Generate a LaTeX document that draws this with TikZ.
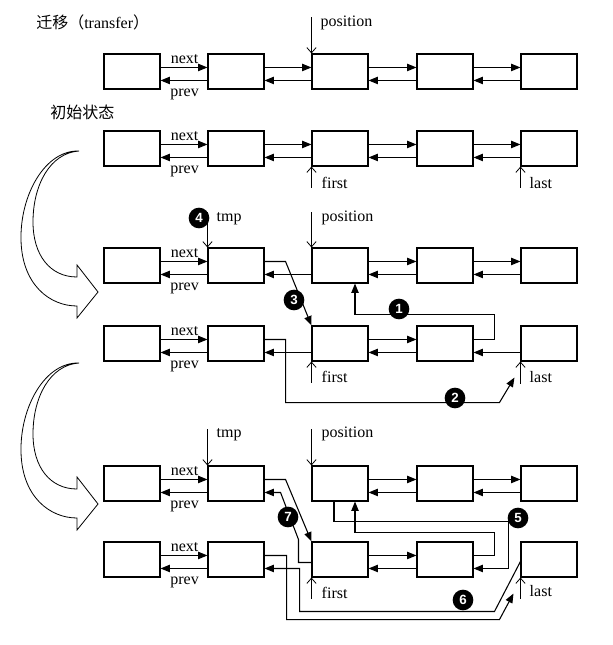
\documentclass[tikz,border=0pt]{standalone}
\usepackage{fontspec}
\setmainfont{Liberation Serif}
\newfontfamily\cjkfont{Noto Sans CJK SC}
\newfontfamily\numfont{Liberation Sans}
\usetikzlibrary{calc,arrows.meta}
\tikzset{
 box/.style={draw, line width=0.8pt, minimum width=42pt, minimum height=26.25pt, inner sep=0pt},
 link/.style={line width=0.8pt, -{Triangle[length=7pt,width=5.5pt]}},
 ptr/.style={line width=0.6pt, -{Straight Barb[length=4pt,width=7pt]}},
 lbl/.style={font=\fontsize{12}{14}\selectfont, inner sep=0pt, anchor=base west},
 num/.style={circle, fill=black, text=white, font=\numfont\bfseries\fontsize{10}{10}\selectfont, minimum size=15.5pt, inner sep=0pt},
 turn/.style={line width=0.6pt, fill=white},
}
\newcommand{\boxrow}[2]{%
 \node[box] (#11) at (132,#2) {};
 \node[box] (#12) at (236,#2) {};
 \node[box] (#13) at (340,#2) {};
 \node[box] (#14) at (445,#2) {};
 \node[box] (#15) at (549,#2) {};
 \node[lbl,anchor=base] (#1nx) at ($(#11.north east)+(24,10)$) {next};
 \node[lbl,anchor=base] (#1pv) at ($(#11.north east)+(24,43)$) {prev};
}
\newcommand{\lnknext}[2]{\draw[link] ($(#1.north east)+(0,14)$) -- ($(#2.north west)+(0,14)$);}
\newcommand{\lnkprev}[2]{\draw[link] ($(#1.north west)+(0,27)$) -- ($(#2.north east)+(0,27)$);}
\newcommand{\bigturn}[1]{%
 \draw[turn, shift={(0,#1)}] (79,151) .. controls (45,150) and (20,195) .. (21,240)
  .. controls (22,285) and (50,306) .. (77,306) -- (77,318) -- (98,292) -- (77,265) -- (77,277)
  .. controls (50,277) and (33,255) .. (33,222) .. controls (33,185) and (50,153) .. (79,151) -- cycle;}
\begin{document}
\begin{tikzpicture}[x=0.75pt,y=-0.75pt]
\path[use as bounding box] (0,0) rectangle (612,645);

\node[lbl] (title) at (36,29) {{\cjkfont 迁移（}transfer{\cjkfont ）}};
\node[lbl] (init) at (50,119) {\cjkfont 初始状态};

\bigturn{0}
\bigturn{212}

% ---------- row 1
\boxrow{a}{71.5}
\lnknext{a1}{a2}\lnkprev{a2}{a1}
\lnknext{a2}{a3}\lnkprev{a3}{a2}
\lnknext{a3}{a4}\lnkprev{a4}{a3}
\lnknext{a4}{a5}\lnkprev{a5}{a4}
\coordinate (apos) at ($(a3.north west)+(0,-36)$);
\draw[ptr] (apos) -- (a3.north west);
\node[lbl] (aposl) at ($(apos)+(9,9)$) {position};

% ---------- row 2
\boxrow{b}{148.5}
\lnknext{b1}{b2}\lnkprev{b2}{b1}
\lnknext{b2}{b3}\lnkprev{b3}{b2}
\lnknext{b3}{b4}\lnkprev{b4}{b3}
\lnknext{b4}{b5}\lnkprev{b5}{b4}
\coordinate (bfirst) at ($(b3.south west)+(0,21)$);
\draw[ptr] (bfirst) -- (b3.south west);
\node[lbl] (bfirstl) at ($(b3.south west)+(10,22)$) {first};
\coordinate (blast) at ($(b5.south west)+(0,21)$);
\draw[ptr] (blast) -- (b5.south west);
\node[lbl] (blastl) at ($(b5.south west)+(9,22)$) {last};

% ---------- row 3
\boxrow{c}{265.5}
\lnknext{c1}{c2}\lnkprev{c2}{c1}
\lnkprev{c3}{c2}
\lnknext{c3}{c4}\lnkprev{c4}{c3}
\lnknext{c4}{c5}\lnkprev{c5}{c4}
\coordinate (ctmp) at ($(c2.north west)+(0,-35)$);
\draw[ptr] (ctmp) -- (c2.north west);
\node[lbl] (ctmpl) at ($(c2.north west)+(9,-26)$) {tmp};
\node[num] (n4) at (199,218) {4};
\coordinate (cpos) at ($(c3.north west)+(0,-35)$);
\draw[ptr] (cpos) -- (c3.north west);
\node[lbl] (cposl) at ($(c3.north west)+(10,-26)$) {position};

% ---------- row 4
\boxrow{d}{343.5}
\lnknext{d1}{d2}\lnkprev{d2}{d1}
\lnkprev{d3}{d2}
\lnknext{d3}{d4}\lnkprev{d4}{d3}
\lnkprev{d5}{d4}
\coordinate (dfirst) at ($(d3.south west)+(0,21)$);
\draw[ptr] (dfirst) -- (d3.south west);
\node[lbl] (dfirstl) at ($(d3.south west)+(10,21)$) {first};
\coordinate (dlast) at ($(d5.south west)+(0,22)$);
\draw[ptr] (dlast) -- (d5.south west);
\node[lbl] (dlastl) at ($(d5.south west)+(9,21)$) {last};

% steps of stage 2
\draw[link] ($(d4.north east)+(0,14)$) -- ++(21,0) |- ($(c3.south)+(15,31)$) -- ($(c3.south)+(15,0)$);
\node[num] (n1) at (399,309) {1};
\draw[link] ($(d2.north east)+(0,14)$) -- ++(21,0) |- ($(d5.south west)+(-21,41)$) -- ($(d5.south west)+(-6,16)$);
\node[num] (n2) at (455,398) {2};
\draw[link] ($(c2.north east)+(0,14)$) -- ++(21,0) -- (d3.north west);
\node[num] (n3) at (294,300) {3};

% ---------- row 5
\boxrow{e}{483.5}
\lnknext{e1}{e2}\lnkprev{e2}{e1}
\lnknext{e3}{e4}\lnkprev{e4}{e3}
\lnknext{e4}{e5}\lnkprev{e5}{e4}
\coordinate (etmp) at ($(e2.north west)+(0,-36)$);
\draw[ptr] (etmp) -- (e2.north west);
\node[lbl] (etmpl) at ($(e2.north west)+(9,-28)$) {tmp};
\coordinate (epos) at ($(e3.north west)+(0,-36)$);
\draw[ptr] (epos) -- (e3.north west);
\node[lbl] (eposl) at ($(e3.north west)+(10,-28)$) {position};

% ---------- row 6
\boxrow{f}{559.5}
\lnknext{f1}{f2}\lnkprev{f2}{f1}
\lnknext{f3}{f4}\lnkprev{f4}{f3}
\coordinate (ffirst) at ($(f3.south west)+(0,21)$);
\draw[ptr] (ffirst) -- (f3.south west);
\node[lbl] (ffirstl) at ($(f3.south west)+(10,21)$) {first};
\coordinate (flast) at ($(f5.south west)+(0,21)$);
\draw[ptr] (flast) -- (f5.south west);
\node[lbl] (flastl) at ($(f5.south west)+(9,19)$) {last};

% steps of stage 3
\draw[link] ($(f4.north east)+(0,14)$) -- ++(21,0) |- ($(e3.south)+(15,31)$) -- ($(e3.south)+(15,0)$);
\draw[link] ($(f2.north east)+(0,14)$) -- ++(22,0) |- ($(f5.south west)+(-21,42)$) -- ($(f5.south west)+(-7,16)$);
\draw[link] ($(e2.north east)+(0,14)$) -- ++(21,0) -- (f3.north west);
\draw[link] ($(e3.south)+(-6,0)$) -- ++(0,20) -| ($(f4.north east)+(35,27)$) -- ($(f4.north east)+(0,27)$);
\node[num] (n5) at (518,518) {5};
\draw[link] ($(f5.north west)+(0,20)$) -- ($(f5.north west)+(-26,70)$) -| ($(f2.north east)+(35,27)$) -- ($(f2.north east)+(0,27)$);
\node[num] (n6) at (463,600) {6};
\draw[link] ($(f3.north west)+(0,21)$) -- ++(-13,0) -- ++(0,-23) -- ($(e2.north east)+(16,27)$) -- ($(e2.north east)+(0,27)$);
\node[num] (n7) at (288,517) {7};
\end{tikzpicture}
\end{document}
